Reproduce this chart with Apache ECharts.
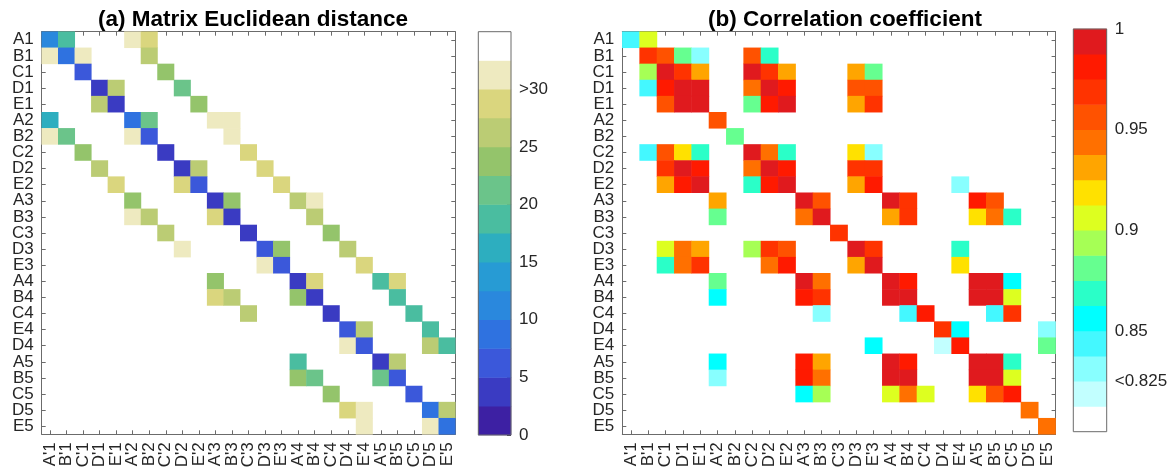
<!DOCTYPE html>
<html>
<head>
<meta charset="utf-8">
<title>heatmaps</title>
<script src="https://cdn.jsdelivr.net/npm/echarts@6/dist/echarts.min.js"></script>
<style>
  html, body { margin: 0; background: #fff; }
  #chart { width: 1173px; height: 472px; }
</style>
</head>
<body>
<div id="chart"></div>
<script>
  // column labels (shared by both panels)
  const colLabels = ["A'1","B'1","C'1","D'1","E'1","A'2","B'2","C'2","D'2","E'2","A'3","B'3","C'3","D'3","E'3",
                     "A'4","B'4","C'4","D'4","E'4","A'5","B'5","C'5","D'5","E'5"];
  // row labels - note left panel has E4 before D4
  const rowsLeft  = ['A1','B1','C1','D1','E1','A2','B2','C2','D2','E2','A3','B3','C3','D3','E3',
                     'A4','B4','C4','E4','D4','A5','B5','C5','D5','E5'];
  const rowsRight = ['A1','B1','C1','D1','E1','A2','B2','C2','D2','E2','A3','B3','C3','D3','E3',
                     'A4','B4','C4','D4','E4','A5','B5','C5','D5','E5'];

  // colour scales (bottom -> top)
  const distEdges  = [0, 2.5, 5, 7.5, 10, 12.5, 15, 17.5, 20, 22.5, 25, 27.5, 30, 32.5, 35];
  const distColors = ['#3d20a3','#3a3bc2','#3b58da','#2f72e0','#2a88dd','#279bd4','#2daebf',
                      '#4abda0','#6bc48a','#94c46b','#bbcc74','#dad67e','#eeeac0','#ffffff'];
  const distTicks  = [0, 5, 10, 15, 20, 25, 30];
  const distTickLabels = ['0','5','10','15','20','25','>30'];

  const corrEdges  = [0.8, 0.8125, 0.825, 0.8375, 0.85, 0.8625, 0.875, 0.8875, 0.9,
                      0.9125, 0.925, 0.9375, 0.95, 0.9625, 0.975, 0.9875, 1];
  const corrColors = ['#ffffff','#c2ffff','#88ffff','#44f8ff','#00ffff','#2affc8','#66ff90','#a6ff55',
                      '#ddff20','#ffe100','#ffa500','#ff7000','#ff5200','#ff3300','#ff1a00','#e01a1e'];
  const corrTicks  = [0.825, 0.85, 0.9, 0.95, 1];
  const corrTickLabels = ['<0.825','0.85','0.9','0.95','1'];

  // [row, col, value]  (a) Matrix Euclidean distance
  const distCells = [
    [0,0,11],[0,1,19],[0,5,31],[0,6,29],
    [1,0,31],[1,1,9],[1,2,31],[1,6,26],
    [2,2,6],[2,7,24],
    [3,3,4],[3,4,26],[3,8,21],
    [4,3,26],[4,4,4],[4,9,24],
    [5,0,16],[5,5,9],[5,6,21],[5,10,31],[5,11,31],
    [6,0,31],[6,1,21],[6,5,31],[6,6,6],[6,11,31],
    [7,2,24],[7,7,4],[7,12,29],
    [8,3,26],[8,8,4],[8,9,26],[8,13,29],
    [9,4,29],[9,8,29],[9,9,6],[9,14,29],
    [10,5,24],[10,10,4],[10,11,24],[10,15,26],[10,16,31],
    [11,5,31],[11,6,26],[11,10,29],[11,11,4],[11,16,26],
    [12,7,26],[12,12,4],[12,17,24],
    [13,8,31],[13,13,6],[13,14,24],[13,18,26],
    [14,13,31],[14,14,6],[14,19,29],
    [15,10,24],[15,15,4],[15,16,29],[15,20,19],[15,21,29],
    [16,10,29],[16,11,26],[16,15,24],[16,16,4],[16,21,19],
    [17,12,26],[17,17,4],[17,22,19],
    [18,18,6],[18,19,26],[18,23,19],
    [19,18,31],[19,19,6],[19,23,26],[19,24,19],
    [20,15,19],[20,20,4],[20,21,26],
    [21,15,24],[21,16,21],[21,20,21],[21,21,6],
    [22,17,24],[22,22,6],
    [23,18,29],[23,19,31],[23,23,9],[23,24,26],
    [24,19,31],[24,23,31],[24,24,9]
  ];

  // [row, col, value]  (b) Correlation coefficient
  const corrCells = [
    [0,0,0.845],[0,1,0.905],
    [1,1,0.97],[1,2,0.955],[1,3,0.88],[1,4,0.83],[1,7,0.955],[1,8,0.87],
    [2,1,0.895],[2,2,0.995],[2,3,0.97],[2,4,0.93],[2,7,0.995],[2,8,0.97],[2,9,0.93],[2,13,0.93],[2,14,0.88],
    [3,1,0.845],[3,2,0.98],[3,3,0.995],[3,4,0.995],[3,7,0.945],[3,8,0.995],[3,9,0.98],[3,13,0.96],[3,14,0.96],
    [4,2,0.955],[4,3,0.995],[4,4,0.995],[4,7,0.88],[4,8,0.98],[4,9,0.995],[4,13,0.93],[4,14,0.97],
    [5,5,0.955],
    [6,6,0.88],
    [7,1,0.845],[7,2,0.955],[7,3,0.92],[7,4,0.87],[7,7,0.995],[7,8,0.945],[7,9,0.87],[7,13,0.92],[7,14,0.83],
    [8,2,0.97],[8,3,0.995],[8,4,0.98],[8,7,0.945],[8,8,0.995],[8,9,0.98],[8,13,0.97],[8,14,0.97],
    [9,2,0.93],[9,3,0.98],[9,4,0.995],[9,7,0.87],[9,8,0.98],[9,9,0.995],[9,13,0.93],[9,14,0.98],[9,19,0.83],
    [10,5,0.93],[10,10,0.995],[10,11,0.955],[10,15,0.995],[10,16,0.97],[10,20,0.98],[10,21,0.96],
    [11,5,0.88],[11,10,0.945],[11,11,0.995],[11,15,0.93],[11,16,0.97],[11,20,0.92],[11,21,0.945],[11,22,0.87],
    [12,12,0.97],
    [13,2,0.905],[13,3,0.945],[13,4,0.93],[13,7,0.895],[13,8,0.97],[13,9,0.955],[13,13,0.995],[13,14,0.97],[13,19,0.87],
    [14,2,0.87],[14,3,0.945],[14,4,0.97],[14,8,0.945],[14,9,0.98],[14,13,0.93],[14,14,0.995],[14,19,0.92],
    [15,5,0.88],[15,10,0.995],[15,11,0.945],[15,15,0.995],[15,16,0.98],[15,20,0.995],[15,21,0.995],[15,22,0.855],
    [16,5,0.855],[16,10,0.98],[16,11,0.97],[16,15,0.995],[16,16,0.995],[16,20,0.995],[16,21,0.995],[16,22,0.905],
    [17,11,0.83],[17,16,0.845],[17,17,0.98],[17,21,0.845],[17,22,0.97],
    [18,18,0.97],[18,19,0.855],[18,24,0.83],
    [19,14,0.855],[19,18,0.82],[19,19,0.98],[19,24,0.88],
    [20,5,0.855],[20,10,0.98],[20,11,0.93],[20,15,0.995],[20,16,0.98],[20,20,0.995],[20,21,0.995],[20,22,0.87],
    [21,5,0.83],[21,10,0.98],[21,11,0.945],[21,15,0.995],[21,16,0.995],[21,20,0.995],[21,21,0.995],[21,22,0.905],
    [22,10,0.855],[22,11,0.895],[22,15,0.905],[22,16,0.945],[22,17,0.905],[22,20,0.92],[22,21,0.955],[22,22,0.98],
    [23,23,0.945],
    [24,24,0.945]
  ];

  const FONT = 'Liberation Sans';
  const TXT = '#262626';
  const AX = '#6b6b6b';

  function pieces(edges, colors) {
    return colors.map((c, i) => i === colors.length - 1
      ? { gte: edges[i], lte: edges[i + 1], color: c }
      : { gte: edges[i], lt: edges[i + 1], color: c });
  }
  function bandData(edges) {
    const out = [];
    for (let i = 0; i < edges.length - 1; i++) out.push([0, i, (edges[i] + edges[i + 1]) / 2]);
    return out;
  }
  function lookup(ticks, labels) {
    return function (v) {
      const i = ticks.findIndex(t => Math.abs(t - v) < 1e-9);
      return i < 0 ? '' : labels[i];
    };
  }

  const tickStyle = { show: true, inside: true, length: 4, alignWithLabel: true, lineStyle: { color: AX } };
  const lineStyle = { show: true, lineStyle: { color: AX, width: 1 } };

  function catX(grid, pos, labels) {
    return {
      type: 'category', gridIndex: grid, position: pos, data: colLabels,
      axisLine: lineStyle, axisTick: tickStyle,
      axisLabel: { show: labels, rotate: 90, margin: 8, interval: 0, fontFamily: FONT, fontSize: 17, color: TXT },
      splitLine: { show: false }
    };
  }
  function catY(grid, pos, rows, labels) {
    return {
      type: 'category', gridIndex: grid, position: pos, data: rows, inverse: true,
      axisLine: lineStyle, axisTick: tickStyle,
      axisLabel: { show: labels, margin: 8, interval: 0, fontFamily: FONT, fontSize: 17, color: TXT },
      splitLine: { show: false }
    };
  }
  function cbValueAxis(grid, min, max, ticks, labels) {
    return {
      type: 'value', gridIndex: grid, position: 'right', min: min, max: max,
      axisLine: { show: false },
      axisTick: { show: true, inside: true, length: 4, customValues: ticks, lineStyle: { color: '#333' } },
      axisLabel: { show: true, margin: 8, customValues: ticks, formatter: lookup(ticks, labels),
                   fontFamily: FONT, fontSize: 17, color: TXT },
      splitLine: { show: false }
    };
  }
  function hiddenCat(grid, data) {
    return { type: 'category', gridIndex: grid, data: data, show: false };
  }

  const chart = echarts.init(document.getElementById('chart'));
  chart.setOption({
    animation: false,
    backgroundColor: '#fff',
    title: [
      { text: '(a) Matrix Euclidean distance', left: 248, top: 3, textAlign: 'center',
        textStyle: { fontFamily: FONT, fontSize: 22.5, fontWeight: 'bold', color: '#000' } },
      { text: '(b) Correlation coefficient', left: 840, top: 3, textAlign: 'center',
        textStyle: { fontFamily: FONT, fontSize: 22.5, fontWeight: 'bold', color: '#000' } }
    ],
    grid: [
      { left: 41.7, top: 31.7, width: 413.6, height: 402.6 },
      { left: 622.3, top: 31.7, width: 433.3, height: 402.6 },
      { left: 478.3, top: 31.7, width: 32.7, height: 403.3, show: true, z: 5,
        borderColor: AX, borderWidth: 1, backgroundColor: 'rgba(0,0,0,0)' },
      { left: 1073.3, top: 29, width: 33.4, height: 402.7, show: true, z: 5,
        borderColor: AX, borderWidth: 1, backgroundColor: 'rgba(0,0,0,0)' }
    ],
    xAxis: [
      catX(0, 'bottom', true), catX(0, 'top', false),
      catX(1, 'bottom', true), catX(1, 'top', false),
      hiddenCat(2, ['']), hiddenCat(3, [''])
    ],
    yAxis: [
      catY(0, 'left', rowsLeft, true), catY(0, 'right', rowsLeft, false),
      catY(1, 'left', rowsRight, true), catY(1, 'right', rowsRight, false),
      hiddenCat(2, distColors.map((c, i) => i)),
      cbValueAxis(2, 0, 35, distTicks, distTickLabels),
      hiddenCat(3, corrColors.map((c, i) => i)),
      cbValueAxis(3, 0.8, 1, corrTicks, corrTickLabels)
    ],
    visualMap: [
      { type: 'piecewise', show: false, seriesIndex: [0, 2], pieces: pieces(distEdges, distColors) },
      { type: 'piecewise', show: false, seriesIndex: [1, 3], pieces: pieces(corrEdges, corrColors) }
    ],
    series: [
      { type: 'heatmap', xAxisIndex: 0, yAxisIndex: 0,
        data: distCells.map(d => [d[1], d[0], d[2]]) },
      { type: 'heatmap', xAxisIndex: 2, yAxisIndex: 2,
        data: corrCells.map(d => [d[1], d[0], d[2]]) },
      { type: 'heatmap', xAxisIndex: 4, yAxisIndex: 4, data: bandData(distEdges) },
      { type: 'heatmap', xAxisIndex: 5, yAxisIndex: 6, data: bandData(corrEdges) }
    ]
  });
</script>
</body>
</html>
